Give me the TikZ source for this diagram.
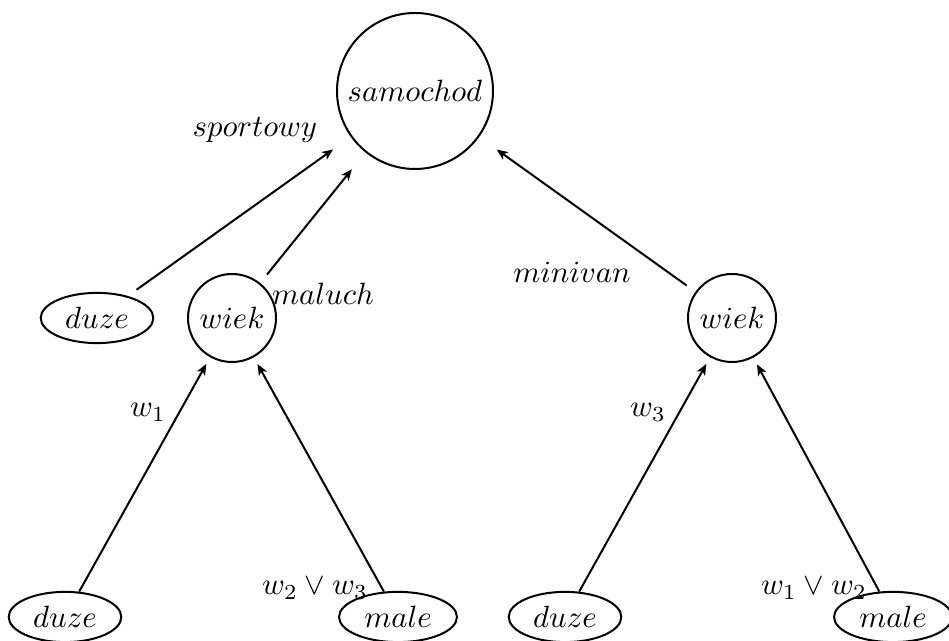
\documentclass[tikz,border=0pt]{standalone}
\usetikzlibrary{shapes.geometric,arrows.meta}
\begin{document}
\begin{tikzpicture}[x=0.325pt,y=-0.325pt, line width=0.65pt,
  bigc/.style={circle,draw,minimum size=50.7pt,inner sep=0pt},
  smallc/.style={circle,draw,minimum size=28.6pt,inner sep=0pt},
  leaf/.style={ellipse,draw,inner xsep=2.6pt,inner ysep=2.3pt},
  lbl/.style={anchor=base,inner sep=0pt},
  tip/.style={-{Stealth[length=3.6pt,width=3pt,inset=1pt]}},
  toparr/.style={tip,shorten <=3.5pt,shorten >=7pt},
  botarr/.style={tip,shorten <=0pt,shorten >=2.5pt}]
\useasboundingbox (0,0) rectangle (949,641);
\node[bigc] (s) at (415,91) {$samochod$};
\node[leaf] (d1) at (97,318) {$duze$};
\node[smallc] (w1) at (232,318) {$wiek$};
\node[smallc] (w2) at (732,318) {$wiek$};
\node[leaf] (bd1) at (65,617) {$duze$};
\node[leaf] (bm1) at (398,617) {$male$};
\node[leaf] (bd2) at (565,617) {$duze$};
\node[leaf] (bm2) at (893,617) {$male$};

\draw[toparr] (d1) -- (s);
\draw[toparr] (w1) -- (s);
\draw[toparr] (w2) -- (s);
\draw[botarr] (bd1) -- (w1);
\draw[botarr] (bm1) -- (w1);
\draw[botarr] (bd2) -- (w2);
\draw[botarr] (bm2) -- (w2);

\node[lbl] (l1) at (255,137) {$sportowy$};
\node[lbl] (l2) at (323,305) {$maluch$};
\node[lbl] (l3) at (572,283) {$minivan$};
\node[lbl] (l4) at (148,417) {$w_1$};
\node[lbl] (l5) at (648,417) {$w_3$};
\node[lbl] (l6) at (315,595) {$w_2\vee w_3$};
\node[lbl] (l7) at (814,595) {$w_1\vee w_2$};
\end{tikzpicture}
\end{document}
